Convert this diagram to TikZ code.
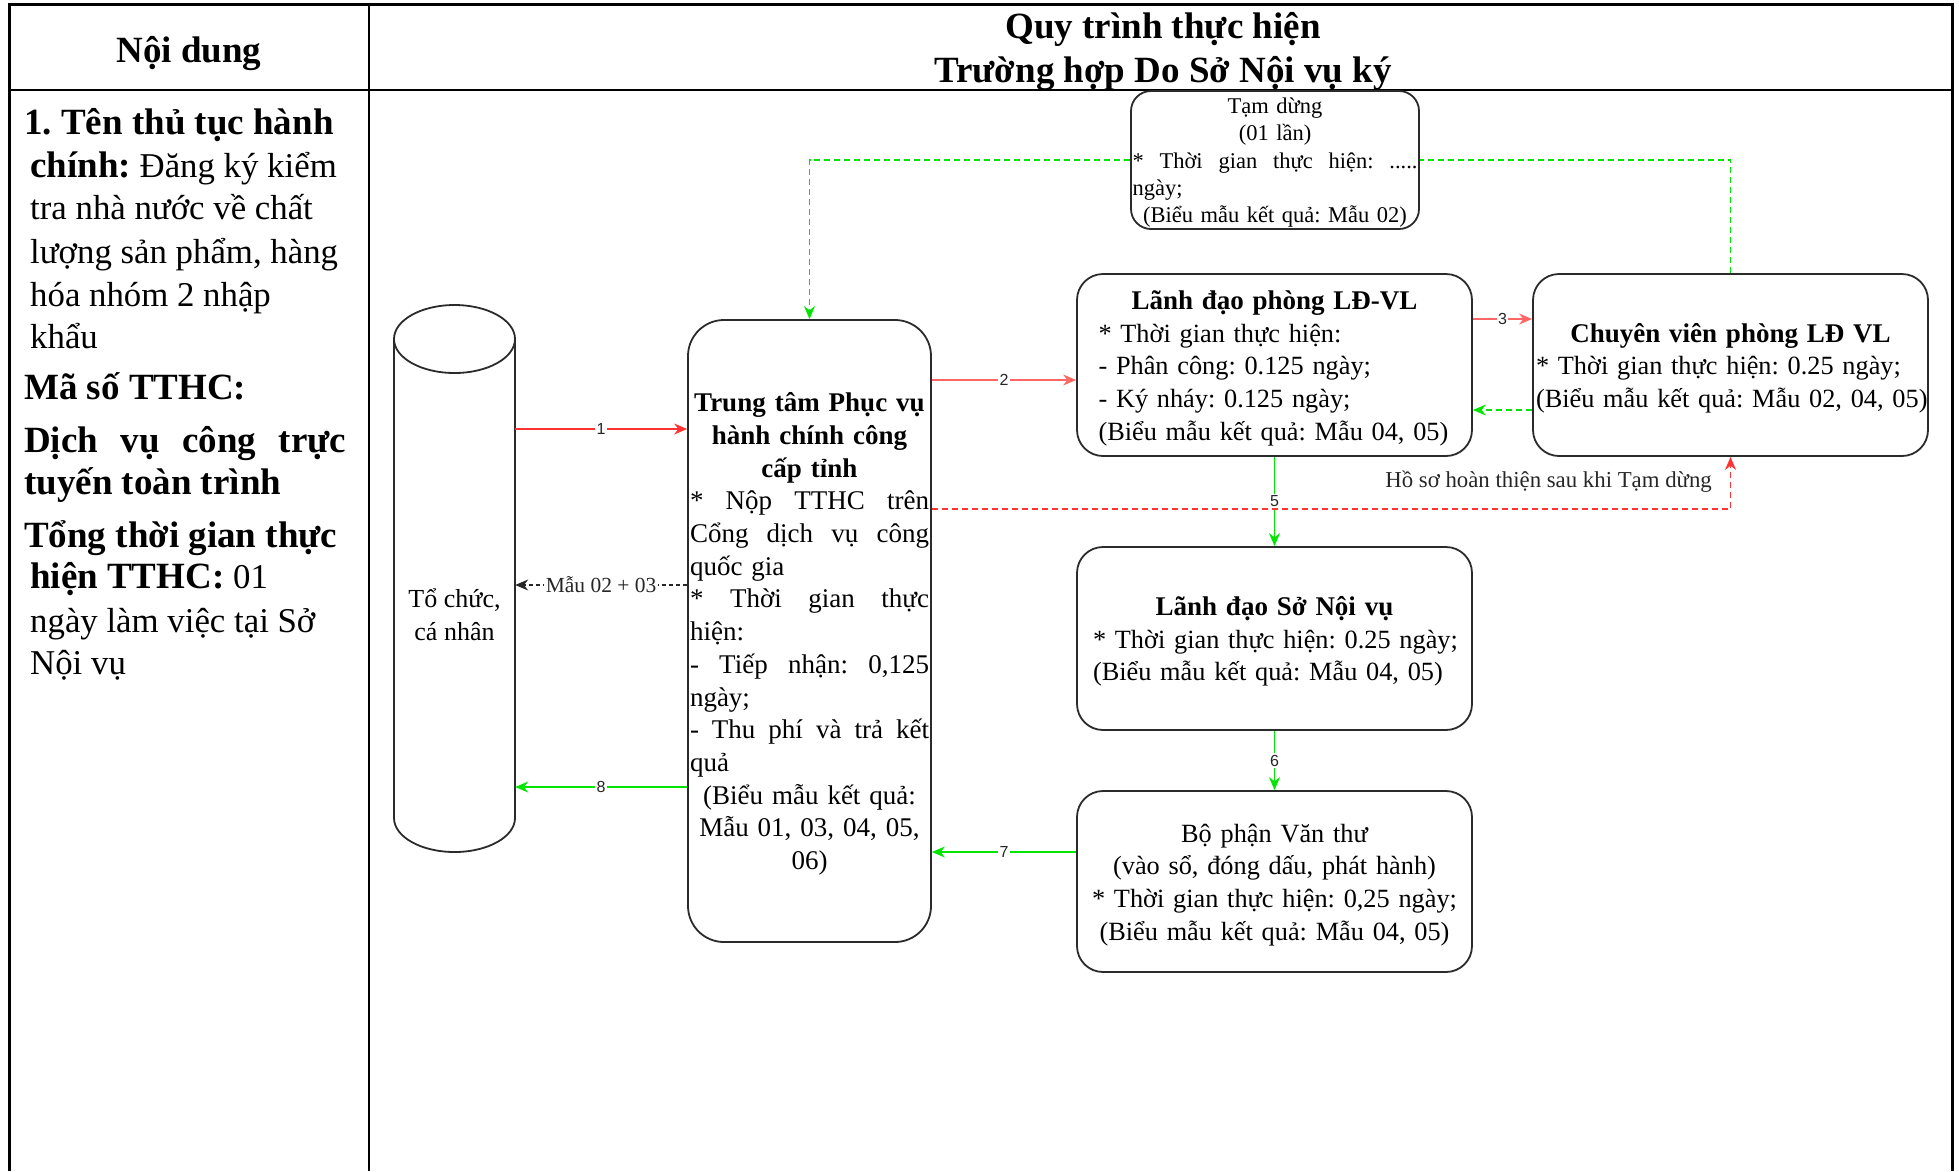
\documentclass[tikz,border=0pt]{standalone}
\usepackage{fontspec}
\setmainfont{Liberation Serif}
\newfontfamily\labelsans{Liberation Sans}
\usetikzlibrary{arrows.meta,calc}
\definecolor{flowred}{HTML}{FF3333}
\definecolor{flowredlight}{HTML}{FF6666}
\definecolor{flowgreen}{HTML}{00E600}
\definecolor{boxline}{HTML}{2B2B2B}
% left-aligned and spread single lines of a given width
\newcommand\Lline[2]{\makebox[#1][l]{#2}}
\newcommand\Jline[2]{\leavevmode\hbox to #1{#2}}
% bold heading text of the left column
\newcommand\Bhead[1]{{\fontsize{37}{43}\selectfont\bfseries #1}}
% first line of a box, with a little extra room above it
\newcommand\TopStrut{\rule{0pt}{25pt}}
\newcommand\Title[1]{{\fontsize{27}{32.7}\selectfont\bfseries\TopStrut #1}}
\begin{document}
\frenchspacing
\begin{tikzpicture}[x=1pt,y=-1pt,
  box/.style={draw=boxline, line width=1.8pt, fill=white, inner sep=0pt, align=center},
  txtbig/.style={font=\fontsize{37}{43}\selectfont},
  txtbox/.style={font=\fontsize{27}{32.7}\selectfont},
  txtbody/.style={font=\fontsize{26.3}{32.7}\selectfont},
  txtsmall/.style={font=\fontsize{22.5}{27.3}\selectfont},
  conn/.style={line width=1.4pt, -{Stealth[length=13pt,width=11pt]}},
  dashes/.style={dash pattern=on 6pt off 4pt},
  numlab/.style={fill=white, inner sep=1.5pt, font=\labelsans\fontsize{16}{16}\selectfont, text=black!85},
  rowtext/.style={anchor=base west, inner sep=0pt, font=\fontsize{34.8}{43}\selectfont}
]
\useasboundingbox (0,0) rectangle (1959,1171);

% table frame
\draw[line width=3pt] (9,1171) -- (9,4) -- (1952,4) -- (1952,1171);
\draw[line width=2pt] (9,90) -- (1952,90);
\draw[line width=2pt] (369,4) -- (369,1171);

% header row
\node[anchor=base, inner sep=0pt, txtbig] (hleft) at (189,62) {\textbf{Nội dung}};
\node[anchor=base, inner sep=0pt, txtbig] (hright1) at (1163,38) {\textbf{Quy trình thực hiện}};
\node[anchor=base, inner sep=0pt, txtbig] (hright2) at (1163,82) {\textbf{Trường hợp Do Sở Nội vụ ký}};

% left column
\node[rowtext] (l1) at (24,134) {\Bhead{1. Tên thủ tục hành}};
\node[rowtext] (l2) at (30,177) {\Bhead{chính:} Đăng ký kiểm};
\node[rowtext] (l3) at (30,219) {tra nhà nước về chất};
\node[rowtext] (l4) at (30,263) {lượng sản phẩm, hàng};
\node[rowtext] (l5) at (30,306) {hóa nhóm 2 nhập};
\node[rowtext] (l6) at (30,348) {khẩu};
\node[rowtext] (l7) at (24,399) {\Bhead{Mã số TTHC:}};
\node[rowtext] (l8) at (24,452) {\Bhead{\Jline{322pt}{Dịch\hfill vụ\hfill công\hfill trực}}};
\node[rowtext] (l9) at (24,494) {\Bhead{tuyến toàn trình}};
\node[rowtext] (l10) at (24,547) {\Bhead{Tổng thời gian thực}};
\node[rowtext] (l11) at (30,588) {\Bhead{hiện TTHC:} 01};
\node[rowtext] (l12) at (30,632) {ngày làm việc tại Sở};
\node[rowtext] (l13) at (30,674) {Nội vụ};

% applicant (cylinder)
\node[inner sep=0pt, minimum width=121, minimum height=547] (org) at (454.5,578.5) {};
\draw[boxline, line width=1.8pt] (454.5,339) ellipse [x radius=60.5, y radius=34];
\draw[boxline, line width=1.8pt] (394,339) -- (394,818)
  .. controls (394,836.8) and (421.1,852) .. (454.5,852)
  .. controls (487.9,852) and (515,836.8) .. (515,818) -- (515,339);
\node[align=center, inner sep=0pt, font=\fontsize{26}{33}\selectfont] (orgtxt) at (454.5,615) {Tổ chức,\\cá nhân};

% process boxes
\node[box, rounded corners=36pt, minimum width=243, minimum height=622, txtbox, text width=239] (tt) at (809.5,631) {%
\Title{Trung tâm Phục vụ}\\
\textbf{hành chính công}\\
\textbf{cấp tỉnh}\\
\Jline{239pt}{*\hfill Nộp\hfill TTHC\hfill trên}\\
\Jline{239pt}{Cổng\hfill dịch\hfill vụ\hfill công}\\
\Lline{239pt}{quốc gia}\\
\Jline{239pt}{*\hfill Thời\hfill gian\hfill thực}\\
\Lline{239pt}{hiện:}\\
\Jline{239pt}{-\hfill Tiếp\hfill nhận:\hfill 0,125}\\
\Lline{239pt}{ngày;}\\
\Jline{239pt}{-\hfill Thu\hfill phí\hfill và\hfill trả\hfill kết}\\
\Lline{239pt}{quả}\\
(Biểu mẫu kết quả:\\
Mẫu 01, 03, 04, 05,\\
06)};

\node[box, rounded corners=26pt, minimum width=395, minimum height=182, txtbody, text width=352] (ld) at (1274.5,365) {%
\Title{Lãnh đạo phòng LĐ-VL}\\
\Lline{352pt}{* Thời gian thực hiện:}\\
\Lline{352pt}{- Phân công: 0.125 ngày;}\\
\Lline{352pt}{- Ký nháy: 0.125 ngày;}\\
\Lline{352pt}{(Biểu mẫu kết quả: Mẫu 04, 05)}};

\node[box, rounded corners=26pt, minimum width=395, minimum height=182, txtbody, text width=389] (cv) at (1730.5,365) {%
\Title{Chuyên viên phòng LĐ VL}\\
\Lline{389pt}{* Thời gian thực hiện: 0.25 ngày;}\\
\Lline{389pt}{(Biểu mẫu kết quả: Mẫu 02, 04, 05)}};

\node[box, rounded corners=20pt, minimum width=288, minimum height=138, txtsmall, text width=285] (tam) at (1275,160) {%
\rule{0pt}{21.3pt}Tạm dừng\\
(01 lần)\\
\Jline{285pt}{*\hfill Thời\hfill gian\hfill thực\hfill hiện:\hfill .....}\\
\Lline{285pt}{ngày;}\\
(Biểu mẫu kết quả: Mẫu 02)};

\node[box, rounded corners=26pt, minimum width=395, minimum height=183, txtbody, text width=363] (so) at (1274.5,638.5) {%
\Title{Lãnh đạo Sở Nội vụ}\\
\Lline{363pt}{* Thời gian thực hiện: 0.25 ngày;}\\
\Lline{363pt}{(Biểu mẫu kết quả: Mẫu 04, 05)}};

\node[box, rounded corners=26pt, minimum width=395, minimum height=181, txtbody, text width=389] (vt) at (1274.5,881.5) {%
\TopStrut Bộ phận Văn thư\\
(vào sổ, đóng dấu, phát hành)\\
{}* Thời gian thực hiện: 0,25 ngày;\\
(Biểu mẫu kết quả: Mẫu 04, 05)};

% connector levels
\coordinate (y1) at (0,429);
\coordinate (y2) at (0,380);
\coordinate (y3) at (0,319);
\coordinate (y4) at (0,410);
\coordinate (ym) at (0,585);
\coordinate (yr) at (0,509);
\coordinate (y7) at (0,852);
\coordinate (y8) at (0,787);

% connectors
\draw[conn, flowred] (org.east |- y1) -- node[numlab]{1} (tt.west |- y1);
\draw[conn, flowredlight] (tt.east |- y2) -- node[numlab]{2} (ld.west |- y2);
\draw[conn, flowredlight] (ld.east |- y3) -- node[numlab]{3} (cv.west |- y3);
\draw[conn, flowgreen, dashes] (cv.west |- y4) -- (ld.east |- y4);
\draw[conn, flowgreen] (ld.south) -- node[numlab]{5} (so.north);
\draw[conn, flowgreen] (so.south) -- node[numlab]{6} (vt.north);
\draw[conn, flowgreen] (vt.west |- y7) -- node[numlab]{7} (tt.east |- y7);
\draw[conn, flowgreen] (tt.west |- y8) -- node[numlab]{8} (org.east |- y8);
\draw[conn, black!85, line width=1.1pt, dash pattern=on 4pt off 3pt] (tt.west |- ym) --
  node[pos=0.5, fill=white, inner sep=2pt, font=\fontsize{21.5}{21.5}\selectfont]{Mẫu 02 + 03} (org.east |- ym);
\draw[conn, flowred, dashes] (tt.east |- yr) -|
  node[pos=0.5, anchor=base east, xshift=-18pt, yshift=22pt, inner sep=0pt, text=black!85, font=\fontsize{22.8}{22.8}\selectfont]{Hồ sơ hoàn thiện sau khi Tạm dừng} (cv.south);
\draw[flowgreen, line width=1.4pt, dashes] (cv.north) |- (tam.east);
\draw[conn, flowgreen, dashes] (tam.west) -| (tt.north);
\end{tikzpicture}
\end{document}
